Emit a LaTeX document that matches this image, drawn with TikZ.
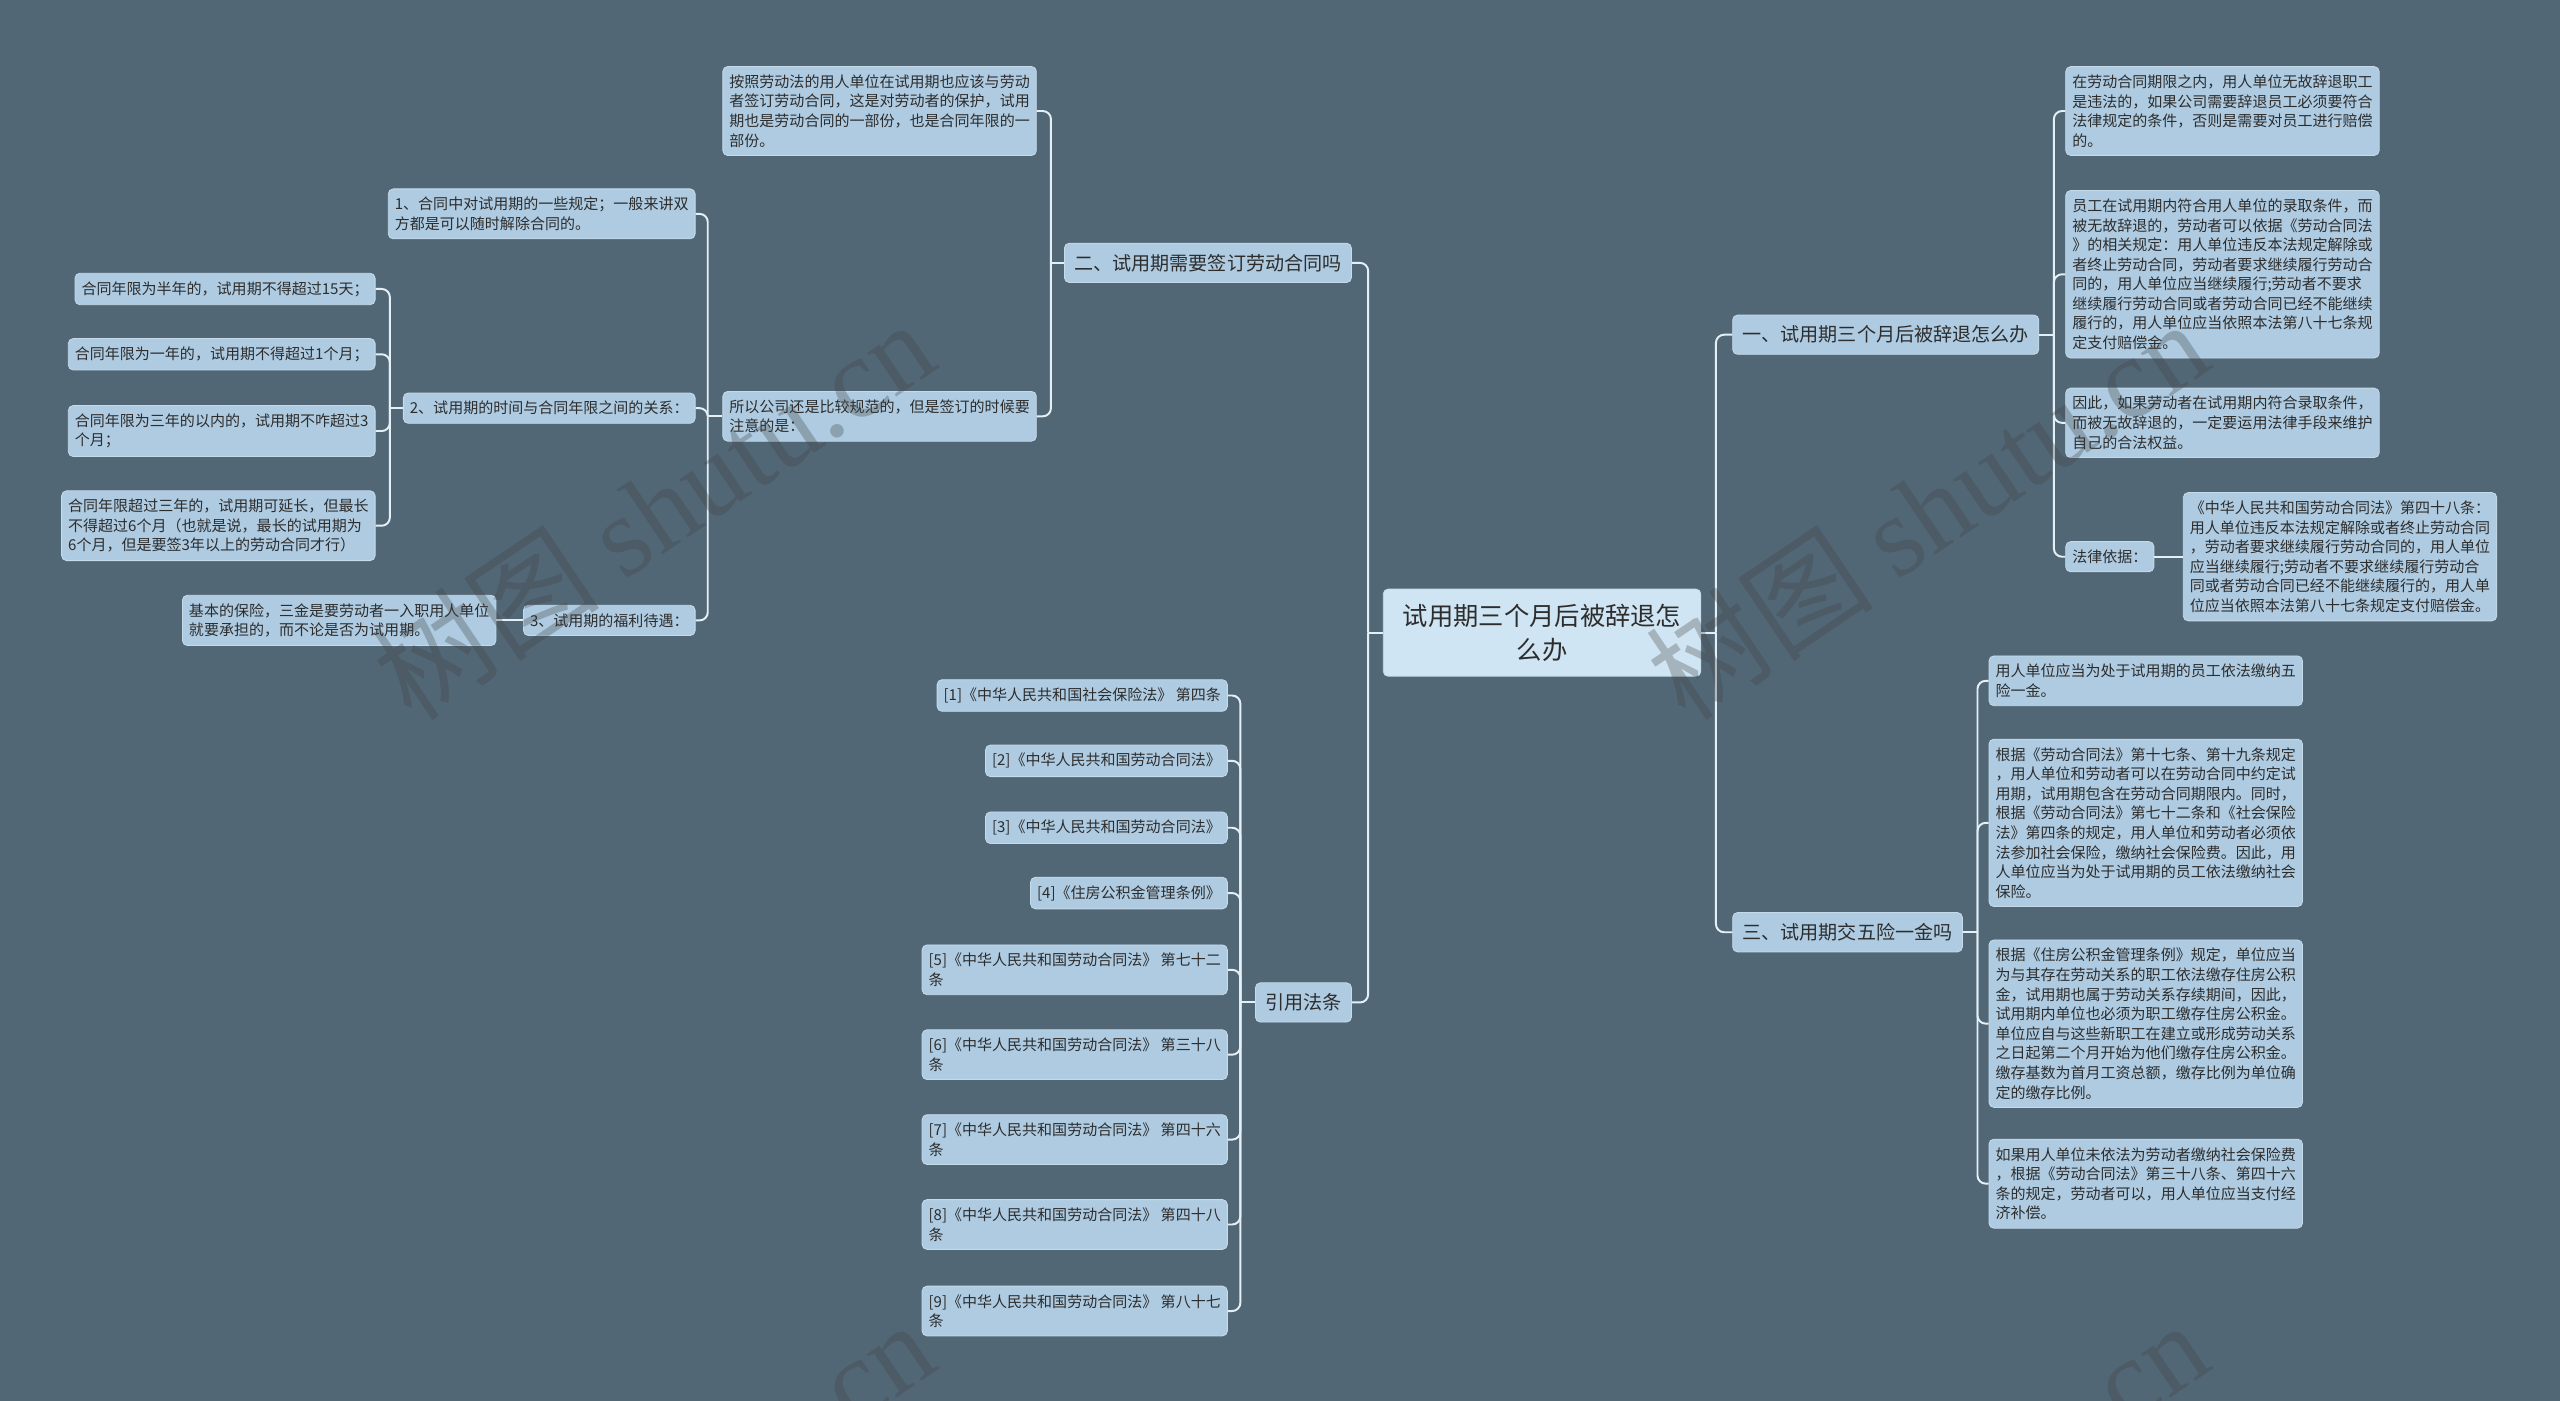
\documentclass[tikz,border=0pt]{standalone}
\usepackage{fontspec}
\setmainfont{Noto Sans CJK SC}
\newfontfamily\wmserif{Liberation Serif}

\definecolor{bgc}{RGB}{82,103,118}
\definecolor{boxc}{RGB}{174,203,225}
\definecolor{rootc}{RGB}{208,229,243}
\definecolor{linec}{RGB}{228,239,246}
\definecolor{txtc}{RGB}{45,45,45}

\tikzset{
  leaf/.style={fill=boxc, draw=boxc!70!white, line width=0.5pt, rounded corners=3pt,
    text=txtc, align=left, inner xsep=4pt, inner ysep=5pt,
    font=\fontsize{9.2}{12}\selectfont},
  branch/.style={leaf, inner xsep=6pt, inner ysep=6.6pt, font=\fontsize{11.7}{14}\selectfont},
  root/.style={leaf, fill=rootc, align=center, inner xsep=12pt, inner ysep=9pt,
    font=\fontsize{15.5}{21}\selectfont},
  link/.style={draw=linec, line width=1.2pt, rounded corners=5pt},
  wmark/.style={text=black!75, text opacity=0.3, rotate=34, font=\fontsize{70}{70}\selectfont}
}

\begin{document}
\begin{tikzpicture}[x=1pt,y=-1pt]
\fill[bgc] (0,0) rectangle (1568,858);
\useasboundingbox (0,0) rectangle (1568,858);

% centre and main branches
\node[root] (root) at (944.5,387.5) {试用期三个月后被辞退怎\\么办};
\node[branch, anchor=west] (b1) at (1061,205) {一、试用期三个月后被辞退怎么办};
\node[branch, anchor=west] (b3) at (1061,571) {三、试用期交五险一金吗};
\node[branch, anchor=east] (b2) at (828,161) {二、试用期需要签订劳动合同吗};
\node[branch, anchor=east] (b4) at (828,614) {引用法条};

% left: 二
\node[leaf, anchor=east] (t1) at (635,68) {按照劳动法的用人单位在试用期也应该与劳动\\者签订劳动合同，这是对劳动者的保护，试用\\期也是劳动合同的一部份，也是合同年限的一\\部份。};
\node[leaf, anchor=east] (t2) at (635,255) {所以公司还是比较规范的，但是签订的时候要\\注意的是：};
\node[leaf, anchor=east] (s1) at (426,131) {1、合同中对试用期的一些规定；一般来讲双\\方都是可以随时解除合同的。};
\node[leaf, anchor=east] (s2) at (426,250) {2、试用期的时间与合同年限之间的关系：};
\node[leaf, anchor=east] (s3) at (426,380) {3、试用期的福利待遇：};
\node[leaf, anchor=east] (q1) at (230,177) {合同年限为半年的，试用期不得超过15天；};
\node[leaf, anchor=east] (q2) at (230,217) {合同年限为一年的，试用期不得超过1个月；};
\node[leaf, anchor=east] (q3) at (230,264) {合同年限为三年的以内的，试用期不咋超过3\\个月；};
\node[leaf, anchor=east] (q4) at (230,322) {合同年限超过三年的，试用期可延长，但最长\\不得超过6个月（也就是说，最长的试用期为\\6个月，但是要签3年以上的劳动合同才行）};
\node[leaf, anchor=east] (s3a) at (304,380) {基本的保险，三金是要劳动者一入职用人单位\\就要承担的，而不论是否为试用期。};

% left: 引用法条
\node[leaf, anchor=east] (c1) at (752,426) {[1]《中华人民共和国社会保险法》 第四条};
\node[leaf, anchor=east] (c2) at (752,466) {[2]《中华人民共和国劳动合同法》};
\node[leaf, anchor=east] (c3) at (752,507) {[3]《中华人民共和国劳动合同法》};
\node[leaf, anchor=east] (c4) at (752,547) {[4]《住房公积金管理条例》};
\node[leaf, anchor=east] (c5) at (752,594) {[5]《中华人民共和国劳动合同法》 第七十二\\条};
\node[leaf, anchor=east] (c6) at (752,646) {[6]《中华人民共和国劳动合同法》 第三十八\\条};
\node[leaf, anchor=east] (c7) at (752,698) {[7]《中华人民共和国劳动合同法》 第四十六\\条};
\node[leaf, anchor=east] (c8) at (752,750) {[8]《中华人民共和国劳动合同法》 第四十八\\条};
\node[leaf, anchor=east] (c9) at (752,803) {[9]《中华人民共和国劳动合同法》 第八十七\\条};

% right: 一
\node[leaf, anchor=west] (r1) at (1265,68) {在劳动合同期限之内，用人单位无故辞退职工\\是违法的，如果公司需要辞退员工必须要符合\\法律规定的条件，否则是需要对员工进行赔偿\\的。};
\node[leaf, anchor=west] (r2) at (1265,168) {员工在试用期内符合用人单位的录取条件，而\\被无故辞退的，劳动者可以依据《劳动合同法\\》的相关规定：用人单位违反本法规定解除或\\者终止劳动合同，劳动者要求继续履行劳动合\\同的，用人单位应当继续履行;劳动者不要求\\继续履行劳动合同或者劳动合同已经不能继续\\履行的，用人单位应当依照本法第八十七条规\\定支付赔偿金。};
\node[leaf, anchor=west] (r3) at (1265,259) {因此，如果劳动者在试用期内符合录取条件，\\而被无故辞退的，一定要运用法律手段来维护\\自己的合法权益。};
\node[leaf, anchor=west] (r4) at (1265,341) {法律依据：};
\node[leaf, anchor=west] (r4a) at (1337,341) {《中华人民共和国劳动合同法》第四十八条：\\用人单位违反本法规定解除或者终止劳动合同\\，劳动者要求继续履行劳动合同的，用人单位\\应当继续履行;劳动者不要求继续履行劳动合\\同或者劳动合同已经不能继续履行的，用人单\\位应当依照本法第八十七条规定支付赔偿金。};

% right: 三
\node[leaf, anchor=west] (u1) at (1218,417) {用人单位应当为处于试用期的员工依法缴纳五\\险一金。};
\node[leaf, anchor=west] (u2) at (1218,504) {根据《劳动合同法》第十七条、第十九条规定\\，用人单位和劳动者可以在劳动合同中约定试\\用期，试用期包含在劳动合同期限内。同时，\\根据《劳动合同法》第七十二条和《社会保险\\法》第四条的规定，用人单位和劳动者必须依\\法参加社会保险，缴纳社会保险费。因此，用\\人单位应当为处于试用期的员工依法缴纳社会\\保险。};
\node[leaf, anchor=west] (u3) at (1218,627) {根据《住房公积金管理条例》规定，单位应当\\为与其存在劳动关系的职工依法缴存住房公积\\金，试用期也属于劳动关系存续期间，因此，\\试用期内单位也必须为职工缴存住房公积金。\\单位应自与这些新职工在建立或形成劳动关系\\之日起第二个月开始为他们缴存住房公积金。\\缴存基数为首月工资总额，缴存比例为单位确\\定的缴存比例。};
\node[leaf, anchor=west] (u4) at (1218,725) {如果用人单位未依法为劳动者缴纳社会保险费\\，根据《劳动合同法》第三十八条、第四十六\\条的规定，劳动者可以，用人单位应当支付经\\济补偿。};

% junctions
\coordinate (jL) at ([xshift=-9pt]root.west);
\coordinate (jR) at ([xshift=9pt]root.east);
\coordinate (j2) at ([xshift=-8pt]b2.west);
\coordinate (jt) at ([xshift=-9pt]t2.west);
\coordinate (js) at ([xshift=-8pt]s2.west);
\coordinate (j4) at ([xshift=-9pt]b4.west);
\coordinate (j1) at ([xshift=9pt]b1.east);
\coordinate (j3) at ([xshift=9pt]b3.east);

% connectors
\draw[link] (root.west) -- (jL);
\draw[link] (root.east) -- (jR);
\foreach \k in {b2,b4} \draw[link] (jL) |- (\k.east);
\foreach \k in {b1,b3} \draw[link] (jR) |- (\k.west);
\draw[link] (b2.west) -- (j2);
\foreach \k in {t1,t2} \draw[link] (j2) |- (\k.east);
\draw[link] (t2.west) -- (jt);
\foreach \k in {s1,s2,s3} \draw[link] (jt) |- (\k.east);
\draw[link] (s2.west) -- (js);
\foreach \k in {q1,q2,q3,q4} \draw[link] (js) |- (\k.east);
\draw[link] (s3.west) -- (s3a.east);
\draw[link] (b4.west) -- (j4);
\foreach \k in {c1,c2,c3,c4,c5,c6,c7,c8,c9} \draw[link] (j4) |- (\k.east);
\draw[link] (b1.east) -- (j1);
\foreach \k in {r1,r2,r3,r4} \draw[link] (j1) |- (\k.west);
\draw[link] (r4.east) -- (r4a.west);
\draw[link] (b3.east) -- (j3);
\foreach \k in {u1,u2,u3,u4} \draw[link] (j3) |- (\k.west);

% watermarks
\begin{scope}
\clip (0,0) rectangle (1568,858);
\node[wmark] (wm1) at (400,312) {树图 {\wmserif shutu.cn}};
\node[wmark] (wm2) at (1180,312) {树图 {\wmserif shutu.cn}};
\node[wmark] (wm3) at (400,925) {树图 {\wmserif shutu.cn}};
\node[wmark] (wm4) at (1180,925) {树图 {\wmserif shutu.cn}};
\end{scope}
\end{tikzpicture}
\end{document}
